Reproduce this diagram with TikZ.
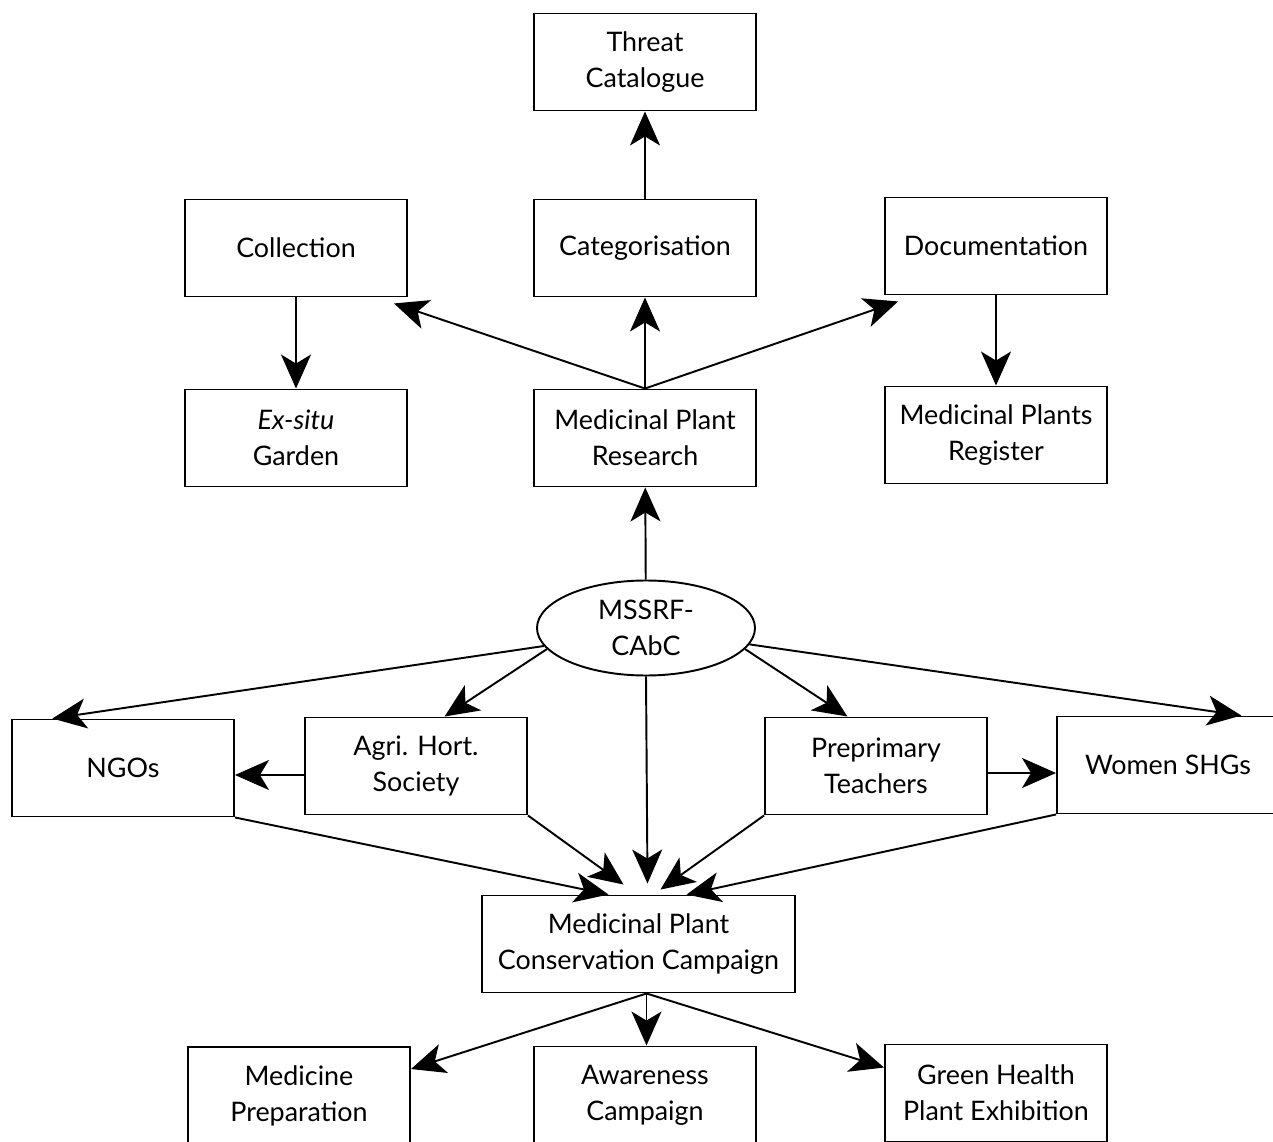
\documentclass[tikz,border=0pt]{standalone}
\usepackage{fontspec}
\setmainfont{Lato}
\usetikzlibrary{arrows.meta,positioning,calc,shapes.geometric}

\begin{document}
\begin{tikzpicture}[
    box/.style={draw, line width=1.1pt, minimum width=4.44cm, minimum height=1.94cm, align=center, inner sep=2pt},
    hub/.style={draw, ellipse, line width=1.1pt, minimum width=4.36cm, minimum height=1.9cm, align=center, inner sep=0pt},
    arr/.style={line width=1.1pt, -{Stealth[length=0.68cm, width=0.6cm, inset=0.18cm]}},
    font=\fontsize{15.3}{20.5}\selectfont
  ]
    \useasboundingbox (0,0) rectangle (25.46,22.82);
    \clip (0,0) rectangle (25.46,22.82);

    \node[box] (threat) at (12.9,21.58) {Threat\\Catalogue};
    \node[box] (collection) at (5.92,17.86) {Collection};
    \node[box] (categ) at (12.9,17.86) {Categorisation};
    \node[box] (doc) at (19.92,17.90) {Documentation};
    \node[box] (exsitu) at (5.92,14.06) {\textit{Ex-situ}\\Garden};
    \node[box] (mpr) at (12.9,14.06) {Medicinal Plant\\Research};
    \node[box] (register) at (19.92,14.12) {Medicinal Plants\\Register};
    \node[hub] (cabc) at (12.92,10.26) {MSSRF-\\CAbC};
    \node[box] (ngos) at (2.46,7.46) {NGOs};
    \node[box] (agri) at (8.32,7.50) {Agri. Hort.\\Society};
    \node[box] (prep) at (17.52,7.50) {Preprimary\\Teachers};
    \node[box] (women) at (23.36,7.52) {Women SHGs};
    \node[box, minimum width=6.26cm] (campaign) at (12.77,3.94) {Medicinal Plant\\Conservation Campaign};
    \node[box] (medicine) at (5.98,0.91) {Medicine\\Preparation};
    \node[box] (awareness) at (12.9,0.92) {Awareness\\Campaign};
    \node[box] (green) at (19.92,0.96) {Green Health\\Plant Exhibition};

    \draw[arr] (categ) -- (threat);
    \draw[arr] (mpr.north) -- ($(collection.south east)+(-0.28,-0.12)$);
    \draw[arr] (mpr.north) -- (categ.south);
    \draw[arr] (mpr.north) -- ($(doc.south west)+(0.28,-0.12)$);
    \draw[arr] (collection) -- (exsitu);
    \draw[arr] (doc) -- (register);
    \draw[arr] (cabc) -- (mpr);

    \draw[arr] (cabc.190) -- (ngos.145);
    \draw[arr] (cabc.192) -- (agri.60);
    \draw[arr] (cabc.-12) -- (prep.120);
    \draw[arr] (cabc.-9) -- (women.34);
    \coordinate (a1) at ($(agri.west)+(0,-0.18)$);
    \draw[arr] (a1) -- (a1 -| ngos.east);
    \coordinate (p1) at ($(prep.east)+(0,-0.14)$);
    \draw[arr] (p1) -- (p1 -| women.west);

    \draw[arr] (ngos.south east) -- ($(campaign.north)+(-0.6,0)$);
    \draw[arr] (agri.south east) -- ($(campaign.north)+(-0.3,0.2)$);
    \draw[arr] (cabc.south) -- ($(campaign.north)+(0.18,0.22)$);
    \draw[arr] (prep.south west) -- ($(campaign.north)+(0.44,0.1)$);
    \draw[arr] (women.south west) -- ($(campaign.north)+(0.96,0)$);

    \coordinate (c0) at ($(campaign.south)+(0.16,0)$);
    \draw[arr] (c0) -- ($(medicine.north east)+(0,-0.46)$);
    \draw[arr] (c0) -- (c0 |- awareness.north);
    \draw[arr] (c0) -- ($(green.north west)+(0,-0.48)$);
  \end{tikzpicture}
\end{document}
